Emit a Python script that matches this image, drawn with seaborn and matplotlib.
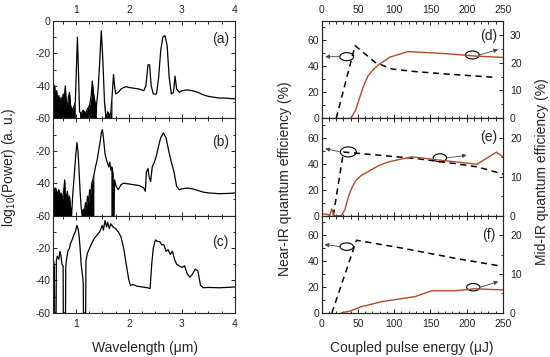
import numpy as np
import matplotlib
matplotlib.use('Agg')
import matplotlib.pyplot as plt
import seaborn as sns
from matplotlib.ticker import MultipleLocator
from matplotlib.patches import Ellipse

# ---- style
sns.set_style("ticks")
plt.rcParams['font.family'] = ['Liberation Sans', 'DejaVu Sans']
plt.rcParams['axes.unicode_minus'] = False
plt.rcParams['mathtext.default'] = 'regular'

# ---- spectra (wavelength in um, log10 power)
lam_a = [0.575, 0.59, 0.60, 0.62, 0.64, 0.66, 0.68, 0.70, 0.72, 0.74, 0.76, 0.78, 0.80, 0.82, 0.84,
         0.86, 0.88, 0.90, 0.93, 0.96, 0.99, 1.01, 1.03, 1.05, 1.07, 1.10, 1.14, 1.18, 1.22, 1.26,
         1.29, 1.31, 1.33, 1.36, 1.39, 1.42, 1.45, 1.48, 1.51, 1.54, 1.56, 1.58, 1.60, 1.62, 1.64,
         1.66, 1.68, 1.71, 1.73, 1.75, 1.80, 1.85, 1.90, 1.95, 2.00, 2.10, 2.20, 2.28, 2.32, 2.36,
         2.39, 2.42, 2.46, 2.52, 2.56, 2.60, 2.64, 2.68, 2.72, 2.76, 2.80, 2.84, 2.87, 2.90, 2.95,
         3.00, 3.10, 3.20, 3.30, 3.40, 3.50, 3.60, 3.70, 3.80, 3.90, 4.00]
pow_a = [-37, -45, -40, -48, -43, -50, -46, -52, -47, -51, -45, -49, -40, -50, -53,
         -47, -44, -52, -55, -53, -50, -30, -10, -32, -56, -57, -55, -57, -54, -52,
         -46, -37, -44, -50, -52, -42, -25, -6, -25, -50, -57, -60, -56, -57, -60,
         -56, -48, -33, -40, -45, -44, -42, -41, -40.5, -41, -41.5, -42, -43, -40, -27,
         -27, -40, -45, -45, -35, -18, -10, -9, -15, -35, -45, -44, -34, -42, -44,
         -43, -42.5, -43, -44, -45.5, -46.5, -47, -47.5, -47.5, -47.8, -48]
fill_a = [(0.575, 0.99), (1.07, 1.39), (1.54, 1.68)]

lam_b = [0.575, 0.60, 0.62, 0.65, 0.68, 0.70, 0.72, 0.75, 0.77, 0.79, 0.80, 0.82, 0.84, 0.86, 0.88,
         0.90, 0.92, 0.94, 0.97, 1.00, 1.02, 1.04, 1.06, 1.08, 1.10, 1.12, 1.14, 1.16, 1.18, 1.20,
         1.22, 1.24, 1.26, 1.28, 1.30, 1.32, 1.34, 1.37, 1.40, 1.43, 1.46, 1.48, 1.50, 1.52, 1.55,
         1.58, 1.60, 1.62, 1.64, 1.66, 1.68, 1.70, 1.71, 1.72, 1.73, 1.76, 1.80, 1.85, 1.90, 2.00,
         2.10, 2.20, 2.28, 2.31, 2.33, 2.36, 2.38, 2.41, 2.44, 2.48, 2.52, 2.56, 2.60, 2.65, 2.70,
         2.75, 2.80, 2.85, 2.90, 2.95, 3.00, 3.10, 3.20, 3.30, 3.40, 3.50, 3.70, 3.90, 4.00]
pow_b = [-42, -45, -43, -47, -44, -48, -46, -50, -45, -38, -46, -50, -45, -52, -48,
         -55, -60, -48, -35, -22, -15, -20, -32, -45, -55, -60, -56, -58, -52, -55,
         -48, -52, -44, -47, -40, -38, -35, -30, -26, -20, -14, -9, -7, -12, -22,
         -26, -28, -30, -27, -32, -30, -34, -60, -60, -38, -42, -44, -41, -40, -40.5,
         -41, -41.5, -43, -45, -33, -31, -36, -39, -30, -27, -23, -17, -12, -9, -12,
         -20, -27, -33, -42, -44, -43.5, -43, -43.5, -44.5, -45.5, -46, -46.5, -46.3, -46]
fill_b = [(0.575, 0.92), (1.10, 1.34), (1.66, 1.72)]

lam_c = [0.575, 0.59, 0.595, 0.598, 0.628, 0.632, 0.65, 0.68, 0.70, 0.72, 0.74, 0.76, 0.763, 0.805, 0.81,
         0.82, 0.85, 0.88, 0.90, 0.93, 0.96, 0.99, 1.02, 1.04, 1.06, 1.08, 1.10, 1.13, 1.14, 1.143,
         1.185, 1.19, 1.22, 1.26, 1.30, 1.35, 1.40, 1.45, 1.50, 1.52, 1.55, 1.58, 1.60, 1.63, 1.66,
         1.70, 1.75, 1.80, 1.85, 1.90, 1.95, 2.00, 2.03, 2.08, 2.15, 2.25, 2.35, 2.40, 2.43, 2.46,
         2.50, 2.54, 2.58, 2.62, 2.66, 2.70, 2.74, 2.78, 2.82, 2.86, 2.90, 2.95, 3.00, 3.05, 3.10,
         3.15, 3.20, 3.25, 3.30, 3.35, 3.40, 3.50, 3.70, 3.90, 4.00]
pow_c = [-27, -30, -32, -60, -60, -28, -25, -27, -22, -25, -30, -31, -60, -60, -32,
         -28, -22, -20, -17, -15, -12, -10, -6, -8, -12, -20, -30, -38, -42, -60,
         -60, -28, -23, -20, -17, -14, -12, -10, -6, -9, -3, -7, -4, -8, -5,
         -7, -8, -10, -13, -20, -30, -40, -43, -42.5, -43.5, -44, -44.5, -45, -30, -20,
         -15, -16, -16, -18, -18, -22, -21, -24, -22, -27, -30, -31, -32, -31, -36,
         -38, -36, -33, -34, -43, -44.5, -44.3, -44.5, -44.2, -44]
fill_c = []

# ---- quantum efficiency vs coupled pulse energy (uJ)
d_near_E = [20, 46, 74, 97, 129, 175, 241]
d_near_Q = [0, 56, 43, 38, 36, 34, 31.5]
d_mid_E = [40, 47, 53, 59, 64, 71, 78, 94, 119, 175, 211, 250]
d_mid_Q = [0, 3, 8, 12.5, 15.3, 17.5, 19.2, 22, 24, 23.2, 22.4, 21.9]

e_near_E = [16, 30, 50, 130, 185, 215, 250]
e_near_Q = [0, 49, 48, 44, 40, 37.5, 32]
e_mid_E = [0, 8, 11, 14, 17, 27, 32, 37, 42, 47, 55, 64, 78, 92, 124, 165, 214, 241, 250]
e_mid_Q = [0.5, 0.3, 0, 1.7, 0, 0, 1.5, 5, 7.3, 9, 10.4, 11.3, 12.8, 13.8, 15.1, 14.2, 13.2, 16.3, 15.1]

f_near_E = [14, 48, 110, 185, 248]
f_near_Q = [0, 56, 50, 42, 36]
f_mid_E = [27, 40, 53, 83, 129, 152, 184, 211, 250]
f_mid_Q = [0, 0.5, 1.5, 2.9, 4.2, 5.7, 5.7, 6.2, 5.9]

red = '#b04a2c'
fig = plt.figure(figsize=(5.5, 3.57), dpi=100)

ph = 97.3 / 357
top = 1 - 21 / 357
bottoms = [top - ph, top - 2 * ph, top - 3 * ph]


def style_axes(ax, xminor, yminor):
    ax.xaxis.set_minor_locator(MultipleLocator(xminor))
    ax.yaxis.set_minor_locator(MultipleLocator(yminor))
    ax.tick_params(which='both', direction='in', labelsize=7.5, pad=2, width=0.7)
    ax.tick_params(axis='x', pad=4.5)
    ax.tick_params(which='major', length=3.2)
    ax.tick_params(which='minor', length=1.8)
    for s in ax.spines.values():
        s.set_linewidth(0.8)


# ---- left: spectra
spec = [(lam_a, pow_a, fill_a, '(a)', 0.815), (lam_b, pow_b, fill_b, '(b)', 0.756),
        (lam_c, pow_c, fill_c, '(c)', 0.727)]
for i, (lam, pw, fills, tag, ty) in enumerate(spec):
    ax = fig.add_axes([53.3 / 550, bottoms[i], 181.7 / 550, ph])
    lam = np.array(lam)
    pw = np.array(pw)
    sns.lineplot(x=lam, y=pw, ax=ax, color='black', lw=0.9, estimator=None, sort=False)
    for lo, hi in fills:
        m = (lam >= lo) & (lam <= hi)
        ax.fill_between(lam, pw, -60, where=m, color='black', lw=0)
    ax.set_xlim(0.575, 4)
    ax.set_ylim(-60, 0)
    ax.set_xticks([1, 2, 3, 4])
    ax.set_yticks([-60, -40, -20, 0] if i == 0 else [-60, -40, -20])
    style_axes(ax, 0.25, 10)
    ax.tick_params(which='both', top=True, right=True, labeltop=(i == 0), labelbottom=(i == 2))
    ax.set_xlabel('')
    ax.set_ylabel('')
    ax.text(0.92, ty, tag, transform=ax.transAxes, ha='center', va='center', fontsize=10)

# ---- right: efficiencies
qe = [(d_near_E, d_near_Q, d_mid_E, d_mid_Q, 35, [0, 10, 20, 30], '(d)', 0.85,
       [(34.5, 47.5, 19, 6.2, 5, 47.5), (207.7, 48.8, 19, 6.2, 243, 53)]),
      (e_near_E, e_near_Q, e_mid_E, e_mid_Q, 25, [0, 10, 20], '(e)', 0.81,
       [(36.7, 49.1, 22, 7.7, 5, 51.6), (163, 44.5, 18.4, 6.2, 200, 46.5)]),
      (f_near_E, f_near_Q, f_mid_E, f_mid_Q, 25, [0, 10, 20], '(f)', 0.80,
       [(34.5, 51.1, 18.4, 5.7, 4, 52.7), (209, 19.8, 18.4, 5.7, 243.5, 24.1)])]
for i, (nE, nQ, mE, mQ, rmax, rticks, tag, ty, marks) in enumerate(qe):
    ax = fig.add_axes([321.7 / 550, bottoms[i], 181.3 / 550, ph])
    sns.lineplot(x=nE, y=nQ, ax=ax, color='black', lw=1.1, ls=(0, (4, 3)),
                 estimator=None, sort=False)
    ax.set_xlim(0, 250)
    ax.set_ylim(0, 75)
    ax.set_xticks([0, 50, 100, 150, 200, 250])
    ax.set_yticks([0, 20, 40, 60])
    style_axes(ax, 10, 10)
    ax.set_xlabel('')
    ax.set_ylabel('')
    ax2 = ax.twinx()
    sns.lineplot(x=mE, y=mQ, ax=ax2, color=red, lw=1.0, estimator=None, sort=False)
    ax2.set_ylim(0, rmax)
    ax2.set_yticks(rticks)
    style_axes(ax2, 10, 5)
    ax2.set_ylabel('')
    ax.tick_params(which='both', top=True, right=False, labeltop=(i == 0), labelbottom=(i == 2))
    ax2.tick_params(which='both', right=True, left=False)
    ax2.tick_params(axis='y', pad=5)
    ax.text(0.919, ty, tag, transform=ax.transAxes, ha='center', va='center', fontsize=10)
    # ellipse + arrow markers
    for j, (cx, cy, w, h, ax_x, ax_y) in enumerate(marks):
        ax.add_patch(Ellipse((cx, cy), w, h, fill=False, ec='black', lw=0.8, zorder=5))
        sx = cx - w / 2 if j == 0 else cx + w / 2
        ax.annotate('', xy=(ax_x, ax_y), xytext=(sx, cy),
                    arrowprops=dict(arrowstyle='-|>', color='#444444', lw=0.6,
                                    mutation_scale=6, shrinkA=0, shrinkB=0), zorder=5)

# ---- labels
fig.text(0.016, 0.532, 'log$_{10}$(Power) (a. u.)', rotation=90, ha='center', va='center', fontsize=10)
fig.text(0.264, 0.025, 'Wavelength (μm)', ha='center', va='center', fontsize=10)
fig.text(0.749, 0.025, 'Coupled pulse energy (μJ)', ha='center', va='center', fontsize=10)
fig.text(0.518, 0.50, 'Near-IR quantum efficiency (%)', rotation=90, ha='center', va='center', fontsize=10)
fig.text(0.985, 0.518, 'Mid-IR quantum efficiency (%)', rotation=90, ha='center', va='center', fontsize=10)

fig.savefig('out.png', dpi=100)
